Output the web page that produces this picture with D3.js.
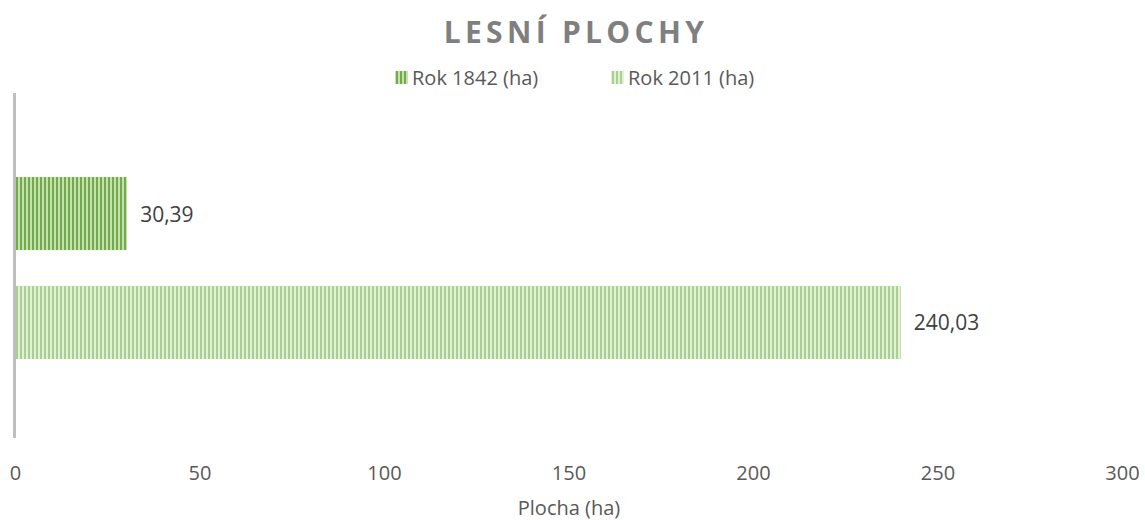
<!DOCTYPE html>
<html><head><meta charset="utf-8">
<script src="https://cdn.jsdelivr.net/npm/d3@7"></script>
<style>body{margin:0;background:#fff;}svg{display:block;font-family:"Open Sans",sans-serif;}</style>
</head><body><svg id="c" width="1145" height="520"></svg>
<script>
const series = ["Rok 1842 (ha)", "Rok 2011 (ha)"];
const values = [30.39, 240.03];
const valueLabels = ["30,39", "240,03"];
const xTicks = [0, 50, 100, 150, 200, 250, 300];
const fgColors = ["#70ad47", "#a9d18e"];
const bgColors = ["#c6e0b4", "#e2f0d9"];

const svg = d3.select("#c");
const defs = svg.append("defs");
series.forEach((s, i) => {
  const p = defs.append("pattern").attr("id", "pat" + i).attr("patternUnits", "userSpaceOnUse")
    .attr("width", 4).attr("height", 4);
  p.append("rect").attr("width", 4).attr("height", 4).attr("fill", bgColors[i]);
  p.append("rect").attr("width", 2).attr("height", 4).attr("fill", fgColors[i]);
});

const x = d3.scaleLinear().domain([0, 300]).range([15, 1122]);
const y = d3.scaleBand().domain(series).range([177, 359]).paddingInner(0.33).paddingOuter(0);

// title
svg.append("text").attr("x", 576).attr("y", 43).attr("text-anchor", "middle")
  .attr("font-size", 30).attr("font-weight", "bold").attr("fill", "#7f7f7f")
  .attr("letter-spacing", "4.3px").text("LESNÍ PLOCHY");

// legend
const legX = [395, 611];
series.forEach((s, i) => {
  const g = svg.append("g");
  g.append("rect").attr("x", legX[i]).attr("y", 71).attr("width", 13).attr("height", 13).attr("fill", "url(#pat" + i + ")");
  g.append("text").attr("x", legX[i] + 17).attr("y", 85).attr("font-size", 20).attr("fill", "#595959").text(s);
});

// bars
svg.selectAll(".bar").data(series).enter().append("rect")
  .attr("x", x(0)).attr("y", d => y(d))
  .attr("width", (d, i) => x(values[i]) - x(0)).attr("height", y.bandwidth())
  .attr("fill", (d, i) => "url(#pat" + i + ")");

svg.selectAll(".vl").data(series).enter().append("text")
  .attr("x", (d, i) => x(values[i]) + 13).attr("y", d => y(d) + y.bandwidth() / 2 + 8)
  .attr("font-size", 21).attr("fill", "#404040").text((d, i) => valueLabels[i]);

// axis line
svg.append("line").attr("x1", 14.5).attr("x2", 14.5).attr("y1", 93).attr("y2", 438)
  .attr("stroke", "#bfbfbf").attr("stroke-width", 3);

// x axis
const ax = svg.append("g").attr("transform", "translate(0,480)")
  .call(d3.axisBottom(x).tickValues(xTicks).tickSize(0).tickPadding(0));
ax.select(".domain").remove();
ax.selectAll("text").attr("font-size", 20).attr("fill", "#595959").attr("font-family", "Open Sans, sans-serif")
  .attr("dy", "0");

svg.append("text").attr("x", 569).attr("y", 515).attr("text-anchor", "middle")
  .attr("font-size", 20).attr("fill", "#595959").text("Plocha (ha)");
</script></body></html>
